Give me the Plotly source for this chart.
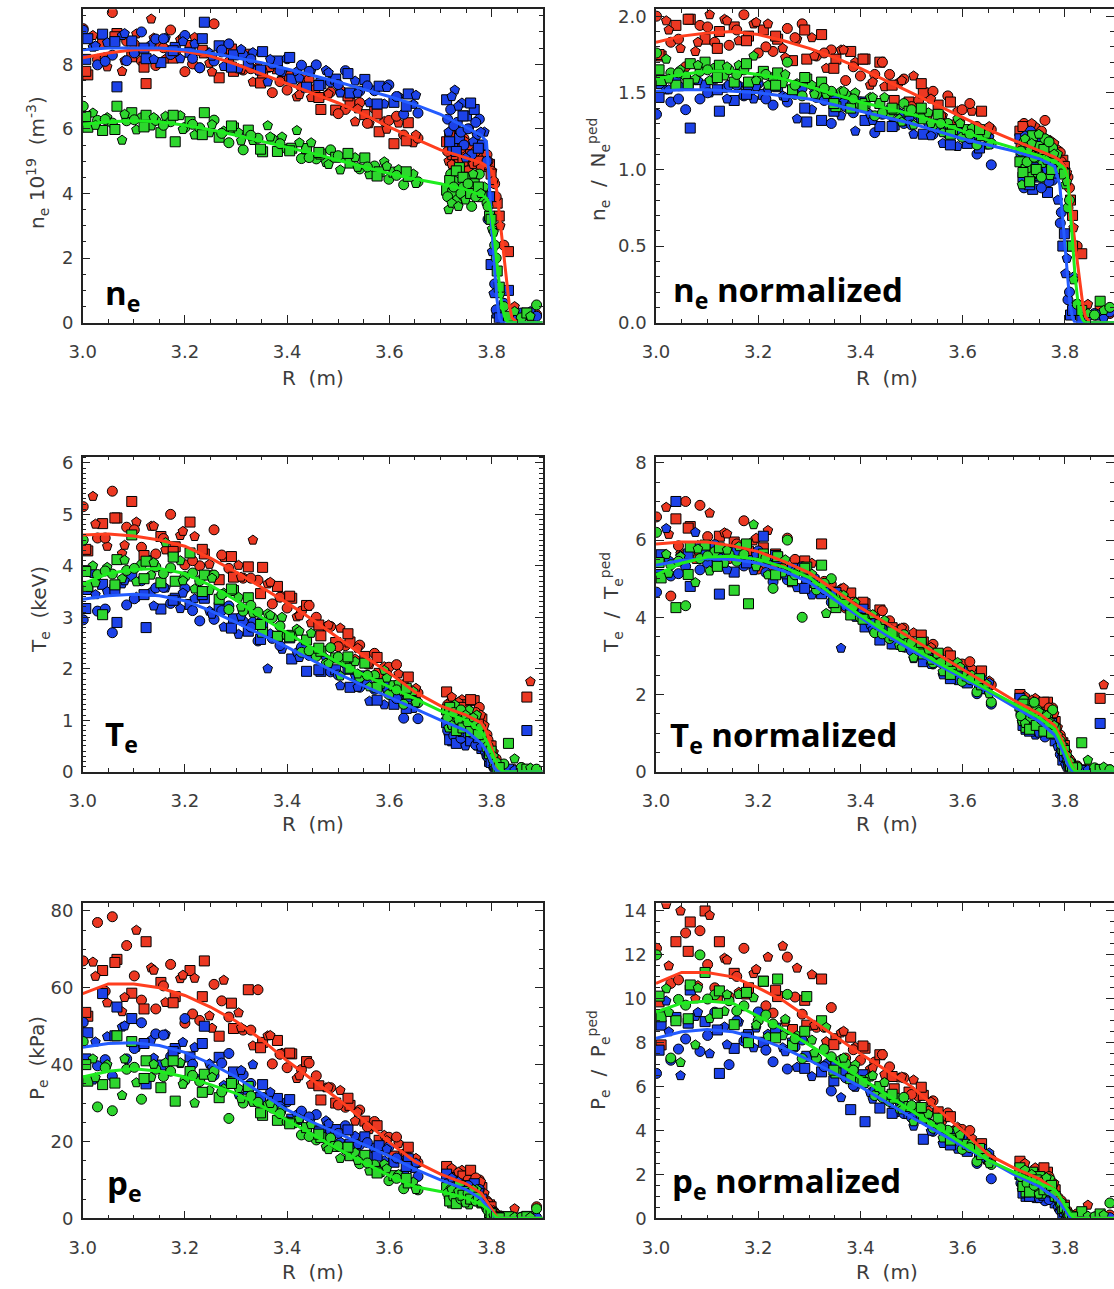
import plotly.graph_objects as go

# ---------------- data ----------------
# Major radius of the Thomson channels (two time slices: 100 + 55 points)
R = [3.001, 3.010, 3.020, 3.029, 3.039, 3.048, 3.058, 3.067, 3.077, 3.086,
     3.096, 3.105, 3.115, 3.124, 3.134, 3.143, 3.153, 3.162, 3.172, 3.181,
     3.191, 3.200, 3.210, 3.219, 3.229, 3.238, 3.248, 3.257, 3.267, 3.276,
     3.286, 3.295, 3.305, 3.314, 3.324, 3.333, 3.343, 3.352, 3.362, 3.371,
     3.381, 3.390, 3.400, 3.409, 3.419, 3.428, 3.438, 3.447, 3.457, 3.466,
     3.476, 3.485, 3.495, 3.504, 3.514, 3.523, 3.533, 3.542, 3.552, 3.561,
     3.571, 3.580, 3.590, 3.599, 3.609, 3.618, 3.628, 3.637, 3.647, 3.656,
     3.712, 3.716, 3.720, 3.724, 3.728, 3.733, 3.737, 3.742, 3.746, 3.751,
     3.756, 3.761, 3.766, 3.771, 3.776, 3.781, 3.786, 3.791, 3.796, 3.801,
     3.806, 3.811, 3.817, 3.824, 3.833, 3.845, 3.858, 3.869, 3.876, 3.888,
     3.006, 3.025, 3.044, 3.063, 3.082, 3.101, 3.120, 3.139, 3.158, 3.177,
     3.196, 3.215, 3.234, 3.253, 3.272, 3.291, 3.310, 3.329, 3.348, 3.367,
     3.386, 3.405, 3.424, 3.443, 3.462, 3.481, 3.500, 3.519, 3.538, 3.557,
     3.576, 3.595, 3.614, 3.633, 3.652,
     3.714, 3.718, 3.722, 3.726, 3.731, 3.735, 3.740, 3.744, 3.749, 3.754,
     3.759, 3.764, 3.769, 3.774, 3.779, 3.793, 3.799, 3.804, 3.809, 3.815]

# n_e (10^19 m^-3)
NE_RED = [9.1, 7.67, 8.89, 8.15, 8.67, 7.92, 9.6, 8.95, 7.78, 8.71,
          8.23, 8.94, 8.1, 7.4, 9.4, 7.96, 8.59, 8.16, 9.06, 8.35,
          8.76, 7.77, 8.58, 8.83, 7.89, 8.35, 8.03, 9.25, 7.58, 8.37,
          8.07, 7.78, 8.27, 7.82, 8.31, 7.45, 7.89, 7.64, 7.88, 7.12,
          7.86, 7.56, 7.2, 7.65, 6.99, 7.28, 7.57, 6.97, 7.26, 6.6,
          7.04, 7.14, 6.58, 7.22, 6.6, 6.79, 6.22, 6.81, 6.44, 6.16,
          6.63, 5.91, 6.23, 6.26, 5.54, 6.18, 5.81, 6.19, 5.57, 5.71,
          5.6, 5.0, 5.9, 5.2, 4.7, 5.5, 5.1, 4.8, 5.7, 5.3,
          4.9, 5.4, 5.0, 4.6, 5.3, 5.1, 4.8, 5.2, 4.9, 4.7,
          4.3, 3.7, 3.0, 2.4, 2.2, 0.5, 0.2, 0.3, 0.15, 0.25,
          7.78, 8.56, 8.2, 8.85, 8.11, 8.62, 7.91, 8.81, 8.51, 8.19,
          8.83, 8.01, 8.43, 7.76, 8.38, 8.47, 7.83, 7.86, 7.42, 7.9,
          7.46, 7.63, 7.06, 7.53, 6.97, 7.08, 6.47, 7.02, 6.62, 6.17,
          6.46, 5.99, 6.39, 5.63, 5.81,
          5.3, 5.8, 4.9, 5.5, 5.2, 4.8, 5.4, 5.0, 5.6, 4.7,
          5.2, 4.9, 5.3, 5.0, 4.8, 5.0, 4.6, 4.4, 3.9, 3.3]
NE_BLUE = [9.05, 8.79, 8.53, 7.98, 8.93, 8.67, 8.28, 7.3, 8.89, 8.11,
           8.72, 8.39, 9.0, 8.17, 8.61, 8.78, 8.05, 8.81, 8.3, 8.52,
           8.17, 8.89, 8.37, 8.63, 7.89, 9.3, 8.35, 8.1, 8.57, 7.93,
           8.63, 8.29, 7.86, 8.29, 8.03, 8.36, 7.83, 8.39, 7.45, 8.01,
           8.1, 7.75, 8.17, 7.54, 7.77, 7.97, 7.29, 7.8, 7.98, 7.4,
           7.81, 7.45, 7.54, 7.11, 7.8, 7.11, 7.48, 7.17, 7.53, 6.81,
           7.18, 7.32, 6.77, 7.36, 6.82, 7.0, 6.45, 7.08, 6.76, 6.49,
           6.9, 5.9, 6.6, 5.4, 7.2, 6.2, 5.7, 6.8, 5.5, 6.4,
           6.0, 5.2, 6.6, 5.8, 6.3, 5.5, 5.9, 5.0, 3.9, 2.2,
           1.2, 0.3, 0.1, 0.6, 1.0, 0.2, 0.3, 0.25, 0.35, 0.2,
           8.15, 8.57, 8.09, 8.7, 8.95, 8.35, 8.5, 8.15, 8.79, 8.42,
           8.7, 8.18, 8.79, 8.25, 8.44, 7.91, 8.46, 8.16, 7.82, 8.15,
           7.8, 8.21, 7.57, 7.78, 7.34, 7.74, 7.37, 7.71, 7.1, 7.33,
           6.77, 7.28, 7.0, 6.7, 7.04,
           6.3, 5.6, 7.0, 6.1, 5.3, 6.7, 5.9, 6.4, 5.1, 6.0,
           6.8, 5.6, 6.2, 5.4, 5.9, 3.2, 1.8, 0.9, 0.4, 0.15]
NE_GREEN = [6.7, 6.05, 6.49, 6.26, 5.95, 6.35, 6.18, 6.7, 5.65, 6.25,
            6.5, 5.97, 6.34, 6.42, 6.09, 6.26, 5.88, 6.39, 6.22, 5.6,
            6.41, 6.04, 6.22, 5.81, 6.03, 6.5, 5.88, 6.27, 5.74, 5.93,
            5.57, 6.03, 5.88, 5.35, 5.96, 5.64, 5.71, 5.29, 6.1, 5.68,
            5.3, 5.75, 5.37, 5.4, 5.95, 5.08, 5.39, 5.57, 5.07, 5.22,
            4.96, 5.35, 5.12, 4.73, 5.11, 4.94, 5.11, 4.76, 5.1, 4.58,
            4.85, 4.67, 4.98, 4.44, 4.66, 4.74, 4.27, 4.53, 4.6, 4.36,
            4.1, 3.5, 4.6, 4.0, 4.4, 3.8, 4.8, 4.2, 3.9, 4.5,
            4.1, 3.6, 4.3, 4.0, 4.6, 3.9, 4.2, 3.7, 3.3, 2.9,
            2.4, 1.6, 0.9, 0.5, 0.2, 0.35, 0.15, 0.3, 0.2, 0.55,
            6.38, 6.11, 6.29, 5.98, 6.45, 6.28, 6.06, 6.35, 6.11, 6.42,
            5.98, 6.14, 5.82, 6.13, 5.86, 6.09, 5.63, 5.8, 5.37, 5.75,
            5.54, 5.32, 5.57, 5.11, 5.27, 4.9, 5.17, 5.24, 4.81, 4.82,
            4.54, 4.84, 4.56, 4.67, 4.31,
            3.9, 4.4, 3.7, 4.2, 4.7, 3.6, 4.0, 4.5, 3.8, 4.3,
            4.0, 4.6, 3.9, 4.2, 4.0, 3.6, 3.2, 2.8, 2.0, 1.1]

# n_e / N_e^ped
NEN_RED = [2.0, 1.74, 1.97, 1.83, 1.94, 1.79, 1.67, 1.98, 1.77, 1.94,
           1.85, 2.01, 1.83, 1.9, 1.98, 1.81, 1.93, 1.84, 2.01, 1.87,
           1.95, 1.76, 1.91, 1.95, 1.77, 1.85, 1.79, 1.92, 1.71, 1.85,
           1.95, 1.72, 1.86, 1.74, 1.88, 1.66, 1.78, 1.72, 1.78, 1.58,
           1.77, 1.7, 1.61, 1.72, 1.55, 1.62, 1.7, 1.54, 1.62, 1.45,
           1.57, 1.59, 1.44, 1.61, 1.45, 1.5, 1.36, 1.51, 1.42, 1.35,
           1.48, 1.29, 1.38, 1.39, 1.2, 1.38, 1.28, 1.38, 1.22, 1.26,
           1.25, 1.12, 1.3, 1.18, 1.05, 1.22, 1.15, 1.28, 1.09, 1.2,
           1.14, 1.32, 1.1, 1.19, 1.16, 1.07, 1.13, 1.11, 1.06, 1.0,
           0.95, 0.8, 0.62, 0.5, 0.45, 0.12, 0.05, 0.08, 0.05, 0.06,
           1.75, 1.91, 1.85, 1.98, 1.83, 1.93, 1.79, 1.97, 1.91, 1.84,
           1.96, 1.8, 1.87, 1.73, 1.86, 1.91, 1.74, 1.76, 1.66, 1.78,
           1.67, 1.72, 1.57, 1.7, 1.55, 1.58, 1.41, 1.56, 1.46, 1.35,
           1.44, 1.31, 1.43, 1.23, 1.28,
           1.15, 1.28, 1.05, 1.22, 1.1, 1.3, 1.0, 1.18, 1.12, 1.25,
           1.06, 1.2, 1.14, 1.08, 1.17, 1.05, 1.02, 0.98, 0.88, 0.7]
NEN_BLUE = [1.36, 1.56, 1.52, 1.44, 1.58, 1.54, 1.39, 1.27, 1.58, 1.46,
            1.55, 1.5, 1.59, 1.38, 1.53, 1.55, 1.45, 1.55, 1.48, 1.51,
            1.46, 1.56, 1.49, 1.52, 1.42, 1.54, 1.48, 1.44, 1.51, 1.33,
            1.53, 1.31, 1.39, 1.47, 1.32, 1.48, 1.3, 1.48, 1.35, 1.41,
            1.42, 1.25, 1.44, 1.32, 1.36, 1.24, 1.28, 1.36, 1.39, 1.29,
            1.37, 1.3, 1.32, 1.23, 1.35, 1.23, 1.29, 1.23, 1.3, 1.17,
            1.23, 1.25, 1.15, 1.26, 1.17, 1.2, 1.1, 1.22, 1.16, 1.03,
            1.2, 1.05, 0.88, 1.12, 0.98, 1.25, 0.87, 1.08, 1.15, 0.95,
            1.1, 1.02, 0.85, 1.06, 0.93, 1.0, 0.8, 0.65, 0.5, 0.32,
            0.15, 0.05, 0.3, 0.12, 0.02, 0.04, 0.06, 0.05, 0.03, 0.07,
            1.47, 1.52, 1.46, 1.55, 1.58, 1.5, 1.52, 1.46, 1.55, 1.49,
            1.54, 1.46, 1.55, 1.47, 1.49, 1.4, 1.5, 1.45, 1.38, 1.44,
            1.37, 1.44, 1.32, 1.36, 1.28, 1.36, 1.29, 1.34, 1.22, 1.26,
            1.16, 1.24, 1.2, 1.14, 1.21,
            1.1, 0.95, 1.22, 1.02, 0.9, 1.15, 1.05, 0.96, 1.18, 0.88,
            1.08, 1.0, 0.92, 1.12, 0.97, 0.72, 0.58, 0.42, 0.2, 0.08]
NEN_GREEN = [1.76, 1.58, 1.72, 1.63, 1.55, 1.65, 1.61, 1.69, 1.59, 1.64,
             1.7, 1.58, 1.66, 1.68, 1.61, 1.65, 1.57, 1.68, 1.65, 1.57,
             1.74, 1.6, 1.64, 1.55, 1.6, 1.63, 1.56, 1.7, 1.52, 1.56,
             1.48, 1.59, 1.55, 1.49, 1.57, 1.49, 1.51, 1.41, 1.51, 1.49,
             1.4, 1.5, 1.42, 1.43, 1.47, 1.35, 1.43, 1.47, 1.36, 1.39,
             1.33, 1.43, 1.38, 1.29, 1.37, 1.33, 1.37, 1.29, 1.36, 1.24,
             1.3, 1.26, 1.33, 1.21, 1.26, 1.27, 1.16, 1.22, 1.23, 1.17,
             1.05, 0.9, 1.18, 1.0, 1.12, 0.95, 1.22, 1.07, 0.98, 1.15,
             1.04, 1.2, 1.1, 0.96, 1.14, 1.05, 1.1, 1.02, 0.98, 0.9,
             0.75, 0.5, 0.28, 0.12, 0.08, 0.06, 0.05, 0.14, 0.08, 0.1,
             1.65, 1.59, 1.63, 1.56, 1.68, 1.65, 1.6, 1.67, 1.62, 1.69,
             1.58, 1.62, 1.55, 1.62, 1.55, 1.6, 1.49, 1.53, 1.43, 1.51,
             1.46, 1.41, 1.47, 1.37, 1.4, 1.31, 1.39, 1.4, 1.3, 1.3,
             1.23, 1.3, 1.23, 1.26, 1.16,
             1.12, 0.98, 1.2, 1.05, 0.92, 1.17, 1.08, 1.0, 1.23, 0.95,
             1.13, 1.06, 1.18, 1.0, 1.1, 1.0, 0.97, 0.92, 0.8, 0.5]

# T_e (keV)
TE_RED = [5.15, 4.29, 5.35, 4.54, 4.82, 4.38, 5.45, 4.93, 4.24, 4.75,
          5.25, 4.85, 4.36, 4.1, 4.77, 4.23, 4.57, 4.31, 5.0, 4.37,
          4.59, 4.02, 4.85, 4.57, 4.0, 4.23, 4.03, 4.7, 3.73, 4.16,
          3.95, 3.78, 4.01, 3.76, 3.98, 4.5, 3.72, 3.97, 3.65, 3.26,
          3.6, 3.41, 3.18, 3.37, 3.01, 3.12, 3.23, 2.89, 3.0, 2.64,
          2.82, 2.82, 2.51, 2.79, 2.45, 2.52, 2.19, 2.46, 2.24, 2.08,
          2.3, 1.91, 2.04, 2.03, 1.63, 1.9, 1.69, 1.84, 1.49, 1.53,
          1.55, 1.1, 1.35, 0.95, 1.25, 1.0, 1.2, 1.4, 1.05, 1.3,
          1.15, 0.98, 1.38, 1.12, 1.25, 1.02, 0.9, 0.72, 0.5, 0.35,
          0.2, 0.1, 0.05, 0.12, 0.03, 0.05, 0.08, 1.45, 1.75, 0.04,
          4.32, 4.81, 4.54, 4.93, 4.4, 4.7, 4.2, 4.77, 4.53, 4.28,
          4.67, 4.1, 4.32, 3.83, 4.21, 4.18, 3.78, 3.76, 3.46, 3.68,
          3.39, 3.41, 3.03, 3.23, 2.85, 2.85, 2.43, 2.68, 2.4, 2.09,
          2.22, 1.91, 2.08, 1.58, 1.62,
          1.3, 1.05, 1.45, 1.15, 0.95, 1.35, 1.1, 1.25, 0.9, 1.2,
          1.4, 1.05, 1.15, 0.95, 1.1, 0.62, 0.5, 0.38, 0.25, 0.1]
TE_BLUE = [2.95, 3.54, 3.85, 3.12, 3.64, 3.5, 2.7, 2.9, 3.65, 3.24,
           3.8, 3.39, 3.71, 2.8, 3.49, 3.57, 3.16, 3.57, 3.27, 3.37,
           3.17, 3.56, 3.25, 3.36, 2.93, 3.37, 3.12, 2.96, 3.19, 2.81,
           3.22, 2.97, 2.67, 2.92, 2.73, 2.92, 2.54, 2.89, 2.0, 2.59,
           2.63, 2.38, 2.63, 2.19, 2.32, 2.42, 1.95, 2.26, 2.36, 1.95,
           2.2, 1.94, 1.98, 1.67, 2.1, 1.64, 1.86, 1.64, 1.86, 1.37,
           1.6, 1.68, 1.3, 1.68, 1.31, 1.42, 1.04, 1.45, 1.23, 1.03,
           0.95, 0.7, 1.05, 0.6, 0.85, 0.75, 0.95, 0.55, 0.8, 0.68,
           0.9, 0.6, 0.75, 0.5, 0.7, 0.45, 0.4, 0.3, 0.2, 0.12,
           0.05, 0.02, 0.04, 0.06, 0.05, 0.03, 0.04, 0.8, 0.06, 0.03,
           3.17, 3.44, 3.16, 3.54, 3.71, 3.36, 3.44, 3.22, 3.58, 3.33,
           3.47, 3.13, 3.44, 3.06, 3.13, 2.79, 3.02, 2.81, 2.57, 2.68,
           2.45, 2.6, 2.22, 2.26, 1.98, 2.12, 1.88, 1.99, 1.64, 1.71,
           1.39, 1.6, 1.42, 1.23, 1.37,
           0.8, 0.62, 0.98, 0.7, 0.55, 0.88, 0.65, 0.78, 0.5, 0.72,
           0.6, 0.82, 0.52, 0.66, 0.48, 0.28, 0.18, 0.1, 0.05, 0.03]
TE_GREEN = [4.5, 3.6, 4.0, 3.83, 3.05, 3.97, 3.84, 4.12, 3.75, 3.91,
            4.6, 3.69, 4.02, 4.09, 3.82, 3.98, 3.67, 4.45, 3.96, 3.7,
            4.1, 3.79, 4.25, 3.55, 3.71, 3.82, 3.52, 3.82, 3.35, 3.47,
            3.15, 3.52, 3.39, 3.12, 3.38, 3.08, 3.1, 2.71, 3.07, 2.99,
            2.63, 3.0, 2.64, 2.65, 2.77, 2.32, 2.56, 2.69, 2.24, 2.34,
            2.11, 2.41, 2.21, 1.86, 2.17, 2.01, 2.14, 1.83, 2.11, 1.65,
            1.87, 1.71, 1.97, 1.5, 1.67, 1.72, 1.31, 1.51, 1.56, 1.34,
            1.2, 0.85, 1.1, 0.95, 1.3, 0.8, 1.05, 1.15, 0.9, 1.0,
            1.2, 0.75, 0.95, 1.1, 0.85, 0.7, 0.6, 0.45, 0.35, 0.25,
            0.15, 0.08, 0.05, 0.15, 0.55, 0.25, 0.08, 0.05, 0.07, 0.05,
            3.89, 3.67, 3.9, 3.63, 4.11, 3.95, 3.75, 4.06, 3.85, 4.17,
            3.71, 3.86, 3.5, 3.76, 3.44, 3.55, 3.2, 3.23, 2.86, 3.04,
            2.83, 2.62, 2.73, 2.35, 2.4, 2.1, 2.23, 2.23, 1.9, 1.87,
            1.64, 1.82, 1.59, 1.62, 1.34,
            1.05, 1.25, 0.9, 1.15, 0.8, 1.0, 1.2, 0.85, 1.1, 0.95,
            0.78, 1.05, 0.9, 0.72, 0.88, 0.5, 0.4, 0.3, 0.18, 0.08]

# T_e / T_e^ped
TEN_RED = [6.6, 5.51, 6.85, 4.55, 6.55, 5.65, 7.0, 6.35, 5.5, 6.9,
           5.8, 6.7, 5.68, 6.1, 6.19, 5.52, 5.95, 5.63, 6.5, 5.71,
           5.98, 5.25, 5.8, 6.25, 5.25, 5.55, 5.29, 6.05, 4.92, 5.46,
           5.35, 4.9, 5.4, 4.92, 5.9, 4.64, 4.85, 4.65, 4.74, 4.24,
           4.63, 4.4, 4.13, 4.35, 3.92, 4.05, 4.19, 3.78, 3.91, 3.48,
           3.7, 3.72, 3.34, 3.6, 3.28, 3.36, 2.98, 3.3, 3.04, 2.85,
           3.1, 2.64, 2.8, 2.79, 2.33, 2.67, 2.41, 2.61, 2.2, 2.25,
           2.0, 1.5, 1.85, 1.3, 1.7, 1.45, 1.6, 1.9, 1.35, 1.75,
           1.55, 1.25, 1.8, 1.5, 1.65, 1.3, 1.15, 0.95, 0.75, 0.55,
           0.35, 0.2, 0.08, 0.15, 0.05, 0.1, 0.06, 1.9, 2.25, 0.05,
           5.58, 6.15, 5.85, 6.31, 5.72, 6.09, 5.52, 6.16, 5.9, 5.62,
           6.05, 5.38, 5.64, 5.08, 5.5, 5.46, 5.02, 4.93, 4.56, 4.76,
           4.39, 4.39, 3.96, 4.17, 3.73, 3.72, 3.27, 3.54, 3.22, 2.87,
           3.0, 2.66, 2.85, 2.3, 2.35,
           1.75, 1.4, 1.95, 1.55, 1.3, 1.85, 1.5, 1.7, 1.25, 1.6,
           1.8, 1.45, 1.65, 1.35, 1.5, 0.85, 0.68, 0.5, 0.32, 0.12]
TEN_BLUE = [4.65, 5.62, 6.3, 5.07, 7.0, 5.59, 5.32, 4.8, 6.2, 5.23,
            5.68, 5.44, 5.88, 4.6, 5.59, 5.7, 5.17, 5.71, 5.33, 5.47,
            5.21, 5.72, 6.1, 5.48, 4.92, 5.52, 5.18, 4.97, 5.27, 4.77,
            5.31, 4.98, 4.58, 4.9, 4.61, 4.76, 4.39, 4.64, 3.2, 4.29,
            4.27, 4.0, 4.16, 3.75, 3.81, 3.86, 3.41, 3.65, 3.69, 3.31,
            3.48, 3.23, 3.23, 2.93, 3.27, 2.85, 3.01, 2.79, 2.95, 2.51,
            2.67, 2.71, 2.36, 2.64, 2.3, 2.36, 2.02, 2.33, 2.12, 1.75,
            1.9, 1.3, 1.6, 1.1, 1.45, 1.2, 1.5, 0.95, 1.35, 1.15,
            1.4, 0.9, 1.25, 1.0, 1.2, 0.8, 0.65, 0.45, 0.3, 0.18,
            0.08, 0.04, 0.06, 0.05, 0.03, 0.05, 0.04, 1.25, 0.06, 0.04,
            5.11, 5.48, 5.13, 5.64, 5.86, 5.4, 5.52, 5.23, 5.73, 5.41,
            5.61, 5.16, 5.6, 5.1, 5.19, 4.75, 5.04, 4.72, 4.37, 4.45,
            4.09, 4.21, 3.68, 3.69, 3.31, 3.46, 3.13, 3.24, 2.78, 2.85,
            2.41, 2.66, 2.41, 2.15, 2.3,
            1.5, 1.2, 1.7, 1.3, 1.05, 1.55, 1.25, 1.4, 1.0, 1.3,
            1.15, 1.45, 1.1, 1.25, 0.95, 0.55, 0.4, 0.25, 0.1, 0.04]
TEN_GREEN = [6.2, 5.02, 5.63, 5.36, 4.25, 5.57, 4.3, 5.82, 4.9, 5.52,
             5.87, 5.2, 5.7, 5.8, 5.4, 5.63, 4.7, 5.83, 5.63, 4.35,
             6.4, 5.41, 5.64, 5.1, 4.75, 5.57, 5.15, 6.0, 4.95, 5.18,
             4.0, 5.3, 5.12, 4.71, 5.35, 4.1, 5.0, 4.25, 4.57, 4.44,
             4.06, 4.38, 3.99, 3.97, 4.07, 3.6, 3.81, 3.92, 3.45, 3.52,
             3.27, 3.55, 3.32, 2.95, 3.24, 3.05, 3.15, 2.82, 3.07, 2.59,
             2.79, 2.6, 2.83, 2.34, 2.48, 2.5, 2.07, 2.25, 2.27, 1.8,
             1.7, 1.3, 1.85, 1.15, 1.55, 1.4, 1.75, 1.2, 1.6, 1.35,
             1.5, 1.05, 1.45, 1.3, 1.6, 1.1, 0.95, 0.8, 0.6, 0.45,
             0.3, 0.15, 0.08, 0.12, 0.75, 0.3, 0.1, 0.06, 0.12, 0.05,
             5.42, 5.14, 5.45, 5.11, 5.77, 5.59, 5.32, 5.74, 5.45, 5.9,
             5.31, 5.54, 5.1, 5.49, 5.1, 5.27, 4.85, 4.88, 4.38, 4.57,
             4.27, 3.95, 4.07, 3.57, 3.62, 3.22, 3.36, 3.35, 2.89, 2.83,
             2.52, 2.71, 2.39, 2.41, 2.02,
             1.45, 1.75, 1.25, 1.6, 1.1, 1.5, 1.8, 1.2, 1.55, 1.35,
             1.05, 1.45, 1.25, 1.0, 1.2, 0.7, 0.55, 0.42, 0.25, 0.1]

# p_e (kPa)
PE_RED = [67, 52.6, 66.7, 77, 64.5, 56.1, 78.5, 67.4, 53.8, 71,
          58.6, 75, 56.8, 72, 65.2, 54.5, 61.4, 56.2, 66.1, 57.7,
          62.4, 50.8, 64.5, 62.5, 51.5, 67, 52.7, 60.9, 47.4, 62,
          52.4, 49.4, 53.5, 49, 59.5, 44.9, 59.5, 45.8, 47.5, 40.2,
          46.3, 43, 39.2, 42.8, 36.4, 38.7, 40.8, 34.9, 37.1, 30.8,
          34, 34, 30, 33.3, 28.9, 29.4, 25.3, 28.2, 25.3, 23.1,
          25.2, 20.3, 21.6, 21.1, 16.2, 19.5, 16.7, 18.5, 14.2, 14.5,
          13.5, 9.5, 12, 8, 11, 10, 7.5, 12.5, 9, 11,
          8.5, 10.5, 7, 9.5, 10, 8, 6.5, 4.5, 3.5, 2.5,
          1.5, 0.6, 0.3, 0.5, 0.4, 2.5, 0.3, 0.5, 0.4, 3.0,
          53.6, 63, 59.1, 66.6, 57.5, 63.1, 54.5, 64.6, 60.5, 56.1,
          63.3, 53.2, 57.7, 49.5, 56.6, 56, 49.6, 49, 44.4, 47.6,
          42.7, 43, 37.1, 40.4, 34.5, 34.15, 29.5, 31.25, 27.65, 23.8,
          24.1, 20.25, 21.15, 15.75, 15.6,
          11.5, 9, 13, 10.5, 8.5, 12, 9.5, 11, 8, 10,
          12.5, 9, 10.5, 8.5, 9.5, 4, 3, 2, 1, 0.4]
PE_BLUE = [51, 48.3, 36, 39.7, 58.5, 47.3, 37, 55, 49.8, 41.5,
           52, 44.5, 50.9, 35, 46.4, 48, 39.9, 47.9, 42.1, 44.2,
           40.3, 52, 42, 44.5, 36.1, 50, 40.2, 37.2, 41.9, 34.6,
           42.9, 38.1, 32.2, 37.4, 33.6, 40, 31.7, 34.8, 29.2, 31.1,
           31.2, 28.2, 30.3, 25.8, 27, 27.9, 23.1, 26.1, 27, 22.9,
           25.4, 22.7, 23.1, 19.9, 24.1, 19.3, 21.4, 19.1, 21.2, 16.2,
           18.3, 18.9, 15, 18.6, 14.6, 15.5, 11.6, 15.5, 13, 10.9,
           11.5, 7, 9.5, 5, 10, 8, 6, 9, 4.5, 8.5,
           7, 5.5, 9, 6.5, 7.5, 5, 4, 2.5, 1.5, 0.8,
           0.3, 0.1, 0.2, 0.15, 0.3, 0.1, 0.2, 0.15, 0.1, 0.2,
           41.5, 45.9, 41.3, 47.5, 50.1, 44.2, 45.5, 41.7, 47.7, 43.4,
           45.8, 40.1, 45.5, 39.2, 40.4, 35.1, 38.5, 35.1, 31.4, 32.8,
           29.1, 30.9, 25.5, 26.4, 22.5, 24.6, 22.1, 23, 19.2, 19.7,
           16.2, 18, 15.7, 13.5, 14.4,
           9, 6.5, 10.5, 7.5, 5.5, 9.5, 7, 8, 5, 8.5,
           6, 7.5, 4.5, 6.5, 5, 2.5, 1.5, 0.8, 0.3, 0.1]
PE_GREEN = [46, 35.7, 41.5, 29, 34.8, 40, 28, 47.5, 32, 38.8,
            46, 35.3, 31, 41, 36.7, 38.8, 34, 40.5, 38.3, 30.5,
            40.5, 35.9, 38.2, 30, 35.6, 37.5, 33.3, 38.3, 31.4, 33.7,
            26, 35.5, 33.8, 30, 34.3, 30.2, 30.2, 26.8, 29.7, 28.7,
            25.5, 28.3, 25.1, 24.9, 25.7, 21.7, 23.6, 24.4, 20.4, 21,
            18.6, 20.9, 18.7, 15.6, 17.9, 16.3, 17.1, 14.2, 16.4, 12.3,
            13.9, 12.2, 14.1, 9.8, 11.1, 11.4, 7.7, 9.2, 9.4, 7.4,
            8, 5, 7.5, 4, 6.5, 5.5, 8.5, 4.5, 6, 7,
            3.5, 6.5, 5, 7.5, 4.5, 4, 3.5, 2.5, 1.5, 1.0,
            0.5, 0.2, 0.3, 0.2, 0.4, 0.3, 0.2, 0.4, 0.3, 2.5,
            40, 36.6, 39.2, 35.2, 41.5, 39.3, 36.4, 40.1, 36.9, 41,
            34.9, 37.2, 32.8, 36.7, 32.9, 35.1, 31.15, 31.85, 27.45, 29.9,
            27.25, 24.6, 25.95, 21.3, 21.9, 17.9, 18.9, 18.5, 15.1, 14.4,
            11.8, 12.9, 10.4, 10.4, 7.5,
            6.5, 4.5, 7.5, 5.5, 3.8, 7, 5, 6, 4, 6.5,
            5, 7.5, 4.5, 5.5, 4, 2, 1.2, 0.6, 0.3, 0.1]

# p_e / P_e^ped
PEN_RED = [12.3, 7.9, 14.3, 10.7, 12.6, 14.0, 13.0, 13.5, 10.0, 13.1,
           14.0, 13.8, 10.5, 12.6, 11.85, 10.1, 11.16, 10.3, 12.3, 10.5,
           11.15, 9.3, 10.8, 11.9, 9.35, 10.1, 12.4, 11.9, 8.6, 11.4,
           9.3, 8.8, 11.1, 8.7, 10.9, 8.05, 9.6, 8.18, 8.45, 7.3,
           8.25, 7.8, 7.2, 7.75, 6.8, 7.12, 7.45, 6.55, 6.9, 5.9,
           6.4, 6.4, 5.75, 6.3, 5.55, 5.6, 4.9, 5.35, 4.85, 4.45,
           4.8, 3.95, 4.15, 4.05, 3.15, 3.65, 3.15, 3.4, 2.65, 2.7,
           2.6, 1.6, 2.2, 1.3, 2.0, 1.5, 1.8, 2.3, 1.2, 1.9,
           1.4, 1.7, 2.1, 1.1, 1.6, 1.3, 1.0, 0.75, 0.5, 0.3,
           0.15, 0.05, 0.1, 0.2, 0.08, 0.6, 0.05, 0.1, 0.06, 0.15,
           9.86, 11.5, 10.86, 12.16, 10.6, 11.56, 10.07, 11.77, 11.02, 10.22,
           11.34, 9.68, 10.39, 8.94, 10.08, 9.93, 8.79, 8.7, 7.91, 8.52,
           7.68, 7.85, 6.85, 7.46, 6.46, 6.44, 5.64, 5.97, 5.3, 4.58,
           4.63, 3.91, 4.0, 2.97, 2.89,
           2.2, 1.7, 2.5, 1.9, 1.4, 2.1, 1.6, 2.0, 1.3, 1.8,
           2.3, 1.5, 1.9, 1.2, 1.6, 0.8, 0.6, 0.4, 0.2, 0.08]
PEN_BLUE = [6.6, 8.8, 9.9, 7.2, 9.15, 6.5, 8.17, 10.4, 9.2, 7.6,
            8.96, 7.5, 9.39, 6.6, 8.72, 7.0, 7.74, 8.94, 8.07, 8.37,
            7.77, 9.4, 8.02, 8.39, 7.13, 8.49, 7.77, 6.8, 7.98, 6.88,
            8.12, 7.38, 6.46, 7.24, 6.67, 7.04, 5.8, 6.98, 5.5, 6.4,
            4.95, 5.97, 6.35, 4.4, 5.73, 5.85, 5.02, 5.49, 5.6, 4.87,
            5.25, 4.77, 4.77, 4.2, 4.87, 3.6, 4.37, 3.96, 4.28, 3.41,
            3.75, 3.83, 3.15, 3.73, 3.05, 3.18, 2.5, 3.13, 2.7, 1.8,
            2.0, 1.3, 1.7, 1.0, 1.5, 1.2, 1.6, 0.9, 1.4, 1.1,
            1.3, 0.8, 1.2, 0.95, 1.1, 0.7, 0.5, 0.35, 0.2, 0.1,
            0.05, 0.03, 0.05, 0.04, 0.06, 0.03, 0.05, 0.04, 0.06, 0.03,
            7.66, 8.5, 7.71, 8.89, 9.38, 8.33, 8.58, 7.91, 9.0, 8.25,
            8.67, 7.66, 8.66, 7.59, 7.8, 6.83, 7.51, 6.91, 6.26, 6.7,
            6.05, 6.54, 5.43, 5.59, 4.78, 5.15, 4.59, 4.74, 3.97, 4.05,
            3.34, 3.69, 3.24, 2.79, 2.98,
            1.6, 1.15, 1.85, 1.35, 1.0, 1.7, 1.25, 1.45, 0.9, 1.3,
            1.05, 1.5, 0.85, 1.2, 0.95, 0.45, 0.3, 0.15, 0.05, 0.03]
PEN_GREEN = [12.0, 9.18, 10.46, 7.3, 9.0, 7.1, 9.71, 10.63, 7.9, 12.0,
             11.2, 9.1, 10.18, 10.36, 9.43, 9.91, 8.82, 10.2, 9.68, 8.0,
             10.05, 9.0, 10.8, 8.27, 8.85, 10.9, 8.32, 10.2, 7.86, 8.32,
             7.28, 10.1, 8.12, 7.29, 9.0, 8.7, 7.36, 6.62, 7.25, 7.06,
             6.36, 6.99, 6.29, 6.26, 6.44, 5.59, 6.0, 6.19, 5.32, 5.47,
             4.98, 5.51, 5.09, 4.4, 4.91, 4.56, 4.74, 4.1, 4.56, 3.66,
             4.01, 3.64, 4.05, 3.14, 3.37, 3.41, 2.59, 2.9, 2.91, 2.45,
             2.3, 1.5, 2.0, 1.2, 1.8, 1.4, 2.1, 1.3, 1.7, 1.9,
             1.1, 1.6, 1.4, 1.8, 1.2, 1.0, 0.85, 0.65, 0.45, 0.3,
             0.15, 0.08, 0.1, 0.05, 0.3, 0.1, 0.06, 0.2, 0.15, 0.7,
             10.12, 9.38, 9.97, 9.09, 10.49, 9.99, 9.34, 10.19, 9.45, 10.29,
             8.8, 9.26, 8.22, 9.07, 8.18, 8.52, 7.54, 7.71, 6.75, 7.3,
             6.75, 6.18, 6.5, 5.5, 5.65, 4.94, 5.14, 5.05, 4.29, 4.12,
             3.56, 3.79, 3.22, 3.18, 2.49,
             1.9, 1.45, 2.2, 1.6, 1.2, 2.0, 1.5, 1.75, 1.1, 1.65,
             1.3, 1.85, 1.25, 1.5, 1.15, 0.7, 0.5, 0.3, 0.15, 0.06]

# fitted profiles
FIT_R = [3.00, 3.05, 3.10, 3.15, 3.20, 3.25, 3.30, 3.35, 3.40, 3.45,
         3.50, 3.55, 3.60, 3.65, 3.70, 3.75, 3.78, 3.79, 3.795, 3.80,
         3.805, 3.81, 3.815, 3.82, 3.825, 3.83, 3.835, 3.84, 3.85, 3.90]
FIT_NE_RED = [8.2, 8.35, 8.45, 8.45, 8.4, 8.25, 8.0, 7.7, 7.4, 7.1, 6.8, 6.45, 6.05, 5.7, 5.35,
              5.1, 4.95, 4.85, 4.8, 4.7, 4.5, 4.1, 3.4, 2.6, 1.8, 1.1, 0.5, 0.15, 0, 0]
FIT_NE_BLUE = [8.45, 8.5, 8.5, 8.5, 8.45, 8.35, 8.2, 8.05, 7.85, 7.65, 7.45, 7.22, 7.0, 6.75, 6.45,
               6.05, 5.8, 5.6, 4.5, 3.0, 1.8, 0.8, 0.15, 0, 0, 0, 0, 0, 0, 0]
FIT_NE_GREEN = [6.14, 6.22, 6.25, 6.22, 6.11, 5.97, 5.8, 5.62, 5.44, 5.24, 5.03, 4.83, 4.62, 4.45, 4.3,
                4.12, 3.95, 3.85, 3.7, 3.3, 2.7, 1.9, 1.2, 0.55, 0.2, 0.05, 0, 0, 0, 0]
FIT_NEN_RED = [1.83, 1.87, 1.89, 1.9, 1.88, 1.84, 1.79, 1.73, 1.66, 1.58, 1.5, 1.42, 1.34, 1.26, 1.19,
               1.12, 1.08, 1.06, 1.04, 1.02, 0.95, 0.82, 0.65, 0.5, 0.38, 0.25, 0.12, 0.04, 0, 0]
FIT_NEN_BLUE = [1.51, 1.52, 1.52, 1.51, 1.5, 1.48, 1.46, 1.42, 1.38, 1.34, 1.3, 1.25, 1.2, 1.16, 1.12,
                1.07, 1.02, 0.9, 0.7, 0.5, 0.3, 0.12, 0.03, 0, 0, 0, 0, 0, 0, 0]
FIT_NEN_GREEN = [1.59, 1.62, 1.64, 1.64, 1.62, 1.59, 1.54, 1.49, 1.44, 1.4, 1.36, 1.31, 1.25, 1.19, 1.14,
                 1.09, 1.05, 1.03, 1.02, 1.0, 0.95, 0.75, 0.5, 0.3, 0.15, 0.06, 0.02, 0, 0, 0]
FIT_TE_RED = [4.6, 4.62, 4.58, 4.5, 4.38, 4.15, 3.88, 3.58, 3.28, 2.95, 2.6, 2.25, 1.92, 1.55, 1.28,
              1.1, 0.95, 0.78, 0.62, 0.45, 0.3, 0.15, 0.05, 0, 0, 0, 0, 0, 0, 0]
FIT_TE_BLUE = [3.35, 3.42, 3.45, 3.42, 3.32, 3.13, 2.9, 2.66, 2.42, 2.16, 1.9, 1.67, 1.45, 1.22, 1.0,
               0.8, 0.55, 0.4, 0.3, 0.18, 0.08, 0.02, 0, 0, 0, 0, 0, 0, 0, 0]
FIT_TE_GREEN = [3.65, 3.85, 3.93, 3.95, 3.85, 3.62, 3.33, 3.0, 2.7, 2.4, 2.12, 1.88, 1.65, 1.42, 1.18,
                1.0, 0.78, 0.6, 0.5, 0.38, 0.26, 0.15, 0.07, 0.02, 0, 0, 0, 0, 0, 0]
FIT_TEN_RED = [5.9, 5.95, 5.95, 5.85, 5.7, 5.45, 5.15, 4.7, 4.25, 3.85, 3.45, 3.05, 2.65, 2.25, 1.85,
               1.5, 1.2, 0.95, 0.8, 0.62, 0.45, 0.28, 0.12, 0.03, 0, 0, 0, 0, 0, 0]
FIT_TEN_BLUE = [5.35, 5.48, 5.52, 5.5, 5.4, 5.2, 4.9, 4.45, 3.98, 3.55, 3.15, 2.78, 2.42, 2.08, 1.7,
                1.3, 0.95, 0.7, 0.55, 0.38, 0.2, 0.08, 0.02, 0, 0, 0, 0, 0, 0, 0]
FIT_TEN_GREEN = [5.1, 5.4, 5.56, 5.58, 5.5, 5.3, 5.03, 4.55, 4.05, 3.62, 3.22, 2.84, 2.48, 2.12, 1.75,
                 1.4, 1.1, 0.85, 0.7, 0.55, 0.38, 0.22, 0.1, 0.02, 0, 0, 0, 0, 0, 0]
FIT_PE_RED = [58.5, 61, 61, 60, 58, 55, 51.3, 46.5, 41, 36, 31, 25.5, 19.8, 14.8, 11.5,
              9.0, 6.5, 4.5, 3.5, 2.2, 1.2, 0.4, 0, 0, 0, 0, 0, 0, 0, 0]
FIT_PE_BLUE = [44.5, 45.5, 45.7, 45, 43.2, 40.3, 36.8, 32.5, 28.2, 25, 22.2, 19.2, 16.2, 12.8, 10,
               7.5, 5.0, 3.3, 2.4, 1.4, 0.6, 0.1, 0, 0, 0, 0, 0, 0, 0, 0]
FIT_PE_GREEN = [36.8, 38.3, 38.9, 38.3, 36.8, 34.8, 32.5, 29.2, 25.6, 21.8, 18, 14.5, 11.1, 8.2, 7.0,
                5.3, 3.6, 2.6, 2.0, 1.2, 0.6, 0.2, 0, 0, 0, 0, 0, 0, 0, 0]
FIT_PEN_RED = [10.7, 11.2, 11.2, 11.0, 10.5, 9.9, 9.1, 8.3, 7.5, 6.75, 6.0, 5.0, 4.0, 2.9, 2.3,
               1.8, 1.3, 0.95, 0.75, 0.5, 0.3, 0.12, 0.03, 0, 0, 0, 0, 0, 0, 0]
FIT_PEN_BLUE = [8.2, 8.5, 8.6, 8.5, 8.2, 7.75, 7.2, 6.6, 6.0, 5.3, 4.6, 3.95, 3.3, 2.65, 2.0,
                1.45, 0.95, 0.7, 0.55, 0.4, 0.2, 0.06, 0, 0, 0, 0, 0, 0, 0, 0]
FIT_PEN_GREEN = [9.4, 9.8, 9.9, 9.8, 9.2, 8.6, 7.9, 7.15, 6.4, 5.65, 4.9, 4.15, 3.4, 2.65, 2.1,
                 1.6, 1.3, 1.0, 0.8, 0.6, 0.4, 0.2, 0.08, 0, 0, 0, 0, 0, 0, 0]

X_TICKS = [3.0, 3.2, 3.4, 3.6, 3.8]

# ---------------- styling ----------------
W, H = 1114, 1289
MARKER_COLORS = ["rgb(236,56,34)", "rgb(28,66,232)", "rgb(46,214,46)"]
LINE_COLORS = ["rgb(255,62,30)", "rgb(36,92,255)", "rgb(30,236,30)"]
SYMBOLS = ["circle", "square", "pentagon"]
TXT = "#3c3c3c"
TICK_FONT = dict(family="DejaVu Sans", size=18, color=TXT)
AX_COLOR = "#222222"
NB = "\u00a0"


def px_x(p):
    return p / W


def px_y(p):
    return 1 - p / H


COLS = [(82.7, 542.7), (656.0, 1114.0)]
ROWS = [(9.3, 322.7), (456.7, 771.7), (903.3, 1218.3)]

panels = [
    dict(row=0, col=0, data=(NE_RED, NE_BLUE, NE_GREEN), fits=(FIT_NE_RED, FIT_NE_BLUE, FIT_NE_GREEN),
         yr=[0, 9.7], dt=2, mdt=0.5, fmt="",
         ytitle="n<sub>e</sub>" + NB + "10<sup>19</sup>" + NB * 2 + "(m<sup>-3</sup>)",
         label="<b>n<sub>e</sub></b>"),
    dict(row=0, col=1, data=(NEN_RED, NEN_BLUE, NEN_GREEN), fits=(FIT_NEN_RED, FIT_NEN_BLUE, FIT_NEN_GREEN),
         yr=[0, 2.045], dt=0.5, mdt=0.1, fmt=".1f",
         ytitle="n<sub>e</sub>" + NB * 2 + "/" + NB * 2 + "N<sub>e</sub><sup>ped</sup>",
         label="<b>n<sub>e</sub> normalized</b>"),
    dict(row=1, col=0, data=(TE_RED, TE_BLUE, TE_GREEN), fits=(FIT_TE_RED, FIT_TE_BLUE, FIT_TE_GREEN),
         yr=[0, 6.12], dt=1, mdt=0.1, fmt="",
         ytitle="T<sub>e</sub>" + NB * 2 + "(keV)",
         label="<b>T<sub>e</sub></b>"),
    dict(row=1, col=1, data=(TEN_RED, TEN_BLUE, TEN_GREEN), fits=(FIT_TEN_RED, FIT_TEN_BLUE, FIT_TEN_GREEN),
         yr=[0, 8.16], dt=2, mdt=0.5, fmt="",
         ytitle="T<sub>e</sub>" + NB * 2 + "/" + NB * 2 + "T<sub>e</sub><sup>ped</sup>",
         label="<b>T<sub>e</sub> normalized</b>"),
    dict(row=2, col=0, data=(PE_RED, PE_BLUE, PE_GREEN), fits=(FIT_PE_RED, FIT_PE_BLUE, FIT_PE_GREEN),
         yr=[0, 82], dt=20, mdt=5, fmt="",
         ytitle="P<sub>e</sub>" + NB * 2 + "(kPa)",
         label="<b>p<sub>e</sub></b>"),
    dict(row=2, col=1, data=(PEN_RED, PEN_BLUE, PEN_GREEN), fits=(FIT_PEN_RED, FIT_PEN_BLUE, FIT_PEN_GREEN),
         yr=[0, 14.35], dt=2, mdt=0.5, fmt="",
         ytitle="P<sub>e</sub>" + NB * 2 + "/" + NB * 2 + "P<sub>e</sub><sup>ped</sup>",
         label="<b>p<sub>e</sub> normalized</b>"),
]

YTITLE_POS = [(38, 163), (599, 170), (40, 610), (611, 603), (38, 1058), (598, 1060)]
LABEL_POS = [(103, 294), (671, 291), (103, 735), (668, 736), (105, 1184), (670, 1182)]
XTITLE_Y = [378, 824, 1272]

fig = go.Figure()
layout = dict(template="none", width=W, height=H, margin=dict(l=0, r=0, t=0, b=0, pad=0),
              paper_bgcolor="white", plot_bgcolor="white", showlegend=False,
              annotations=[])

for i, p in enumerate(panels):
    n = i + 1
    xa = "x" if n == 1 else f"x{n}"
    ya = "y" if n == 1 else f"y{n}"
    xkey = "xaxis" if n == 1 else f"xaxis{n}"
    ykey = "yaxis" if n == 1 else f"yaxis{n}"
    c0, c1 = COLS[p["col"]]
    r0, r1 = ROWS[p["row"]]
    xmax = 3.9 if p["col"] == 0 else 3.0 + 0.9 * (c1 - c0) / 460.0

    for k in range(3):
        ys = p["data"][k]
        fig.add_trace(go.Scatter(
            x=R, y=ys, mode="markers", xaxis=xa, yaxis=ya, cliponaxis=True,
            marker=dict(size=10, color=MARKER_COLORS[k],
                        symbol=[SYMBOLS[j % 3] for j in range(len(ys))],
                        line=dict(color="black", width=1)),
            hoverinfo="skip"))
    for k in range(3):
        fig.add_trace(go.Scatter(
            x=FIT_R, y=p["fits"][k], mode="lines", xaxis=xa, yaxis=ya,
            line=dict(color=LINE_COLORS[k], width=3), hoverinfo="skip"))

    common = dict(showline=True, linecolor=AX_COLOR, linewidth=1.5, mirror="allticks",
                  ticks="inside", ticklen=8, tickwidth=1.3, tickcolor=AX_COLOR,
                  showgrid=False, zeroline=False, tickfont=TICK_FONT, automargin=False)
    layout[xkey] = dict(common, domain=[px_x(c0), min(1.0, px_x(c1))], range=[3.0, xmax],
                        anchor=ya, tickmode="array", tickvals=X_TICKS,
                        ticktext=[f"{v:.1f}" for v in X_TICKS], ticklabelstandoff=12,
                        minor=dict(dtick=0.05, tick0=3.0, ticks="inside", ticklen=4,
                                   tickwidth=1, tickcolor=AX_COLOR))
    layout[ykey] = dict(common, domain=[px_y(r1), px_y(r0)], range=p["yr"], anchor=xa,
                        dtick=p["dt"], tick0=0, tickformat=p["fmt"], ticklabelstandoff=4,
                        minor=dict(dtick=p["mdt"], tick0=0, ticks="inside", ticklen=4,
                                   tickwidth=1, tickcolor=AX_COLOR))

    tx, ty = YTITLE_POS[i]
    layout["annotations"].append(dict(
        text=p["ytitle"], x=px_x(tx), y=px_y(ty), xref="paper", yref="paper",
        showarrow=False, textangle=-90, xanchor="center", yanchor="middle",
        font=dict(family="DejaVu Sans", size=20, color=TXT)))
    layout["annotations"].append(dict(
        text="R" + NB * 2 + "(m)", x=px_x((c0 + min(c1, 1114)) / 2 + (0 if p["col"] == 0 else 2)),
        y=px_y(XTITLE_Y[p["row"]]), xref="paper", yref="paper", showarrow=False,
        xanchor="center", yanchor="middle",
        font=dict(family="DejaVu Sans", size=20, color=TXT)))
    lx, ly = LABEL_POS[i]
    layout["annotations"].append(dict(
        text=p["label"], x=px_x(lx), y=px_y(ly), xref="paper", yref="paper",
        showarrow=False, xanchor="left", yanchor="middle",
        font=dict(family="Open Sans", size=33, color="black")))

fig.update_layout(**layout)
fig.write_html("out.html")
